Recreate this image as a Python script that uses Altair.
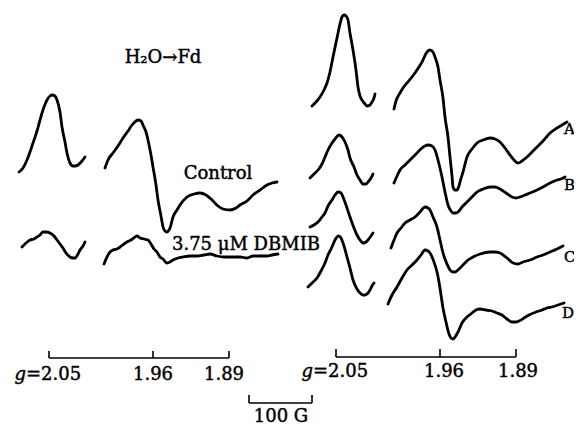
import altair as alt
import pandas as pd

control_low = [(19,172),(23,168),(27,160),(30,152),(33,143),(37,131),(40,120),(44,107),(47,100),(50,96),(52,95),
               (55,96),(57,100),(60,112),(62,127),(65,142),(67,153),(70,163),(73,166),(75,166),(78,165),(82,161),(85,157)]
control_high = [(105,168),(108,160),(113,153),(118,146),(123,138),(128,131),(132,125),(136,121),(138,120),(141,121),
                (143,125),(146,132),(148,140),(151,155),(153,167),(156,185),(158,200),(161,216),(163,227),(165,231),
                (167,232),(169,230),(170,228),(173,217),(177,210),(180,205),(187,197),(194,194),(200,193),(206,195),
                (212,200),(218,206),(223,209),(230,210),(236,208),(240,205),(247,201),(253,195),(260,190),(267,185),
                (272,183),(277,182)]
dbmib_low = [(22,247),(26,243),(30,240),(34,239),(37,237),(40,235),(43,232),(46,232),(50,233),(54,236),(57,240),
             (60,244),(63,248),(66,253),(70,257),(73,258),(75,258),(78,254),(80,250),(83,246),(85,242)]
dbmib_high = [(104,264),(107,257),(110,252),(113,250),(117,249),(120,247),(124,244),(127,242),(131,240),(135,237),
              (137,236),(140,238),(144,239),(148,240),(151,244),(154,249),(157,252),(160,257),(163,259),(167,263),
              (170,262),(173,260),(178,258),(183,257),(190,256),(197,256),(204,255),(210,254),(217,256),(224,257),
              (232,257),(240,257),(247,258),(253,256),(260,256),(267,256),(272,255),(278,254)]
a_low = [(312,106),(316,102),(320,97),(324,90),(327,83),(330,72),(333,57),(337,38),(340,24),(342,17),(344,15),
         (346,16),(348,20),(350,33),(353,50),(356,70),(358,87),(360,96),(362,100),(365,104),(367,106),(370,105),
         (372,102),(374,98),(375,94)]
a_high = [(394,109),(396,101),(400,93),(403,88),(407,83),(412,77),(417,70),(422,62),(427,52),(430,50),(433,52),
          (435,57),(438,67),(440,80),(443,98),(445,117),(448,137),(450,157),(452,176),(453,187),(455,190),(457,190),
          (459,186),(460,182),(463,172),(467,157),(472,149),(477,143),(483,140),(490,138),(495,139),(500,142),
          (505,148),(510,155),(514,160),(518,163),(522,161),(527,157),(532,152),(537,147),(543,141),(550,133),
          (557,128),(562,125),(567,122)]
b_low = [(310,178),(314,174),(318,170),(322,164),(325,157),(328,150),(332,143),(335,139),(339,135),(342,137),
         (345,142),(348,150),(350,158),(354,167),(357,175),(360,180),(363,184),(366,184),(368,182),(371,178),(373,174)]
b_high = [(394,183),(397,176),(400,170),(405,165),(410,160),(416,154),(422,148),(425,146),(428,145),(432,146),
          (435,150),(438,160),(442,177),(445,192),(448,205),(451,211),(453,213),(456,213),(458,212),(462,207),
          (467,202),(472,197),(477,192),(483,189),(490,187),(495,187),(500,189),(506,193),(512,197),(516,198),
          (520,197),(525,195),(530,193),(537,190),(543,187),(550,183),(557,180),(561,179),(565,177)]
c_low = [(310,227),(314,225),(318,222),(322,217),(325,213),(328,206),(332,200),(335,195),(338,192),(341,193),
         (343,197),(346,205),(350,217),(354,228),(357,235),(360,240),(363,243),(366,242),(368,240),(371,236),(373,233)]
c_high = [(391,248),(394,240),(397,233),(401,228),(405,223),(410,220),(415,217),(420,212),(425,207),(428,208),
          (430,210),(433,217),(437,227),(440,240),(443,253),(447,264),(450,270),(453,272),(455,272),(459,269),
          (463,265),(468,260),(473,257),(480,254),(490,252),(495,252),(500,253),(507,258),(513,263),(518,264),
          (523,262),(530,260),(537,257),(543,255),(550,252),(557,249),(563,246)]
d_low = [(308,287),(312,283),(317,278),(321,271),(325,263),(328,255),(332,247),(335,240),(337,237),(339,236),
         (341,238),(344,246),(347,257),(350,268),(353,280),(357,289),(360,293),(363,295),(365,295),(368,293),
         (370,290),(372,286),(374,283)]
d_high = [(388,304),(392,295),(397,287),(402,278),(407,270),(412,265),(417,260),(421,255),(425,250),(428,251),
          (430,253),(434,262),(437,272),(439,282),(441,295),(443,308),(446,322),(449,334),(451,338),(453,339),
          (455,337),(458,332),(462,323),(467,317),(472,313),(476,310),(480,309),(486,310),(492,311),(497,313),
          (502,315),(507,319),(512,322),(516,322),(519,321),(524,318),(529,315),(536,312),(542,310),(547,308),
          (552,307),(558,305),(564,303)]

traces = {
    "control_low": control_low, "control_high": control_high,
    "dbmib_low": dbmib_low, "dbmib_high": dbmib_high,
    "A_low": a_low, "A_high": a_high, "B_low": b_low, "B_high": b_high,
    "C_low": c_low, "C_high": c_high, "D_low": d_low, "D_high": d_high,
}

# ---- g-value markers and field scale bar ----
g_labels = ["2.05", "1.96", "1.89"]
left_g_pos = [49, 153, 229]
right_g_pos = [336, 440, 516]
bar_field = "100 G"
bar_ends = [249, 312]
trace_letters = ["A", "B", "C", "D"]

rows = []
for name, pts in traces.items():
    for i, (x, y) in enumerate(pts):
        rows.append({"trace": name, "i": i, "x": x, "y": y})
df = pd.DataFrame(rows)

# bracket segments
seg = []
for pos, yl, yt in [(left_g_pos, 358, 351), (right_g_pos, 357, 349)]:
    seg.append({"x": pos[0], "x2": pos[-1], "y": yl, "y2": yl})
    for p in pos:
        seg.append({"x": p, "x2": p, "y": yt, "y2": yl})
seg.append({"x": bar_ends[0], "x2": bar_ends[1], "y": 403, "y2": 403})
for p in bar_ends:
    seg.append({"x": p, "x2": p, "y": 395, "y2": 403})
seg_df = pd.DataFrame(seg)

center_text = pd.DataFrame([
    {"x": 163, "y": 63, "t": "H\u2082O\u2192Fd"},
    {"x": 218, "y": 179, "t": "Control"},
    {"x": 246, "y": 250, "t": "3.75 \u03bcM DBMIB"},
    {"x": left_g_pos[1], "y": 380, "t": g_labels[1]},
    {"x": 224, "y": 380, "t": g_labels[2]},
    {"x": 444, "y": 377, "t": g_labels[1]},
    {"x": 518, "y": 377, "t": g_labels[2]},
    {"x": 281, "y": 422, "t": bar_field},
])
eq_text = pd.DataFrame([
    {"x": 26, "y": 380, "t": "=" + g_labels[0]},
    {"x": 313, "y": 377, "t": "=" + g_labels[0]},
])
g_text = pd.DataFrame([
    {"x": 26, "y": 380, "t": "g"},
    {"x": 313, "y": 377, "t": "g"},
])
letters = pd.DataFrame([
    {"x": 564, "y": 129, "t": trace_letters[0]},
    {"x": 564, "y": 185, "t": trace_letters[1]},
    {"x": 564, "y": 257, "t": trace_letters[2]},
    {"x": 562, "y": 313, "t": trace_letters[3]},
])

xs = alt.Scale(domain=[8, 574], nice=False, zero=False)
ys = alt.Scale(domain=[8, 427], nice=False, zero=False, reverse=True)
X = alt.X("x:Q", scale=xs, axis=None)
Y = alt.Y("y:Q", scale=ys, axis=None)
FONT = "DejaVu Serif"
TXT = dict(font=FONT, color="black", stroke="black", strokeWidth=0.45)

lines = alt.Chart(df).mark_line(color="black", strokeWidth=2.8, strokeCap="round",
                                strokeJoin="round", interpolate="monotone").encode(
    x=X, y=Y, detail="trace:N", order="i:Q")

rules = alt.Chart(seg_df).mark_rule(color="black", strokeWidth=1.6).encode(
    x=X, x2="x2:Q", y=Y, y2="y2:Q")

t_center = alt.Chart(center_text).mark_text(fontSize=18, align="center",
                                            baseline="alphabetic", **TXT).encode(x=X, y=Y, text="t:N")
t_eq = alt.Chart(eq_text).mark_text(fontSize=18, align="left",
                                    baseline="alphabetic", **TXT).encode(x=X, y=Y, text="t:N")
t_g = alt.Chart(g_text).mark_text(fontSize=18, fontStyle="italic", align="right",
                                  baseline="alphabetic", **TXT).encode(x=X, y=Y, text="t:N")
t_letters = alt.Chart(letters).mark_text(fontSize=15, align="left", baseline="middle",
                                         **TXT).encode(x=X, y=Y, text="t:N")

chart = alt.layer(lines, rules, t_center, t_eq, t_g, t_letters).properties(
    width=566, height=419, padding=0, autosize=alt.AutoSizeParams(type="none"),
    background="white"
).configure_view(stroke=None)

chart.save("out.html", embed_options={"renderer": "svg", "actions": False})
